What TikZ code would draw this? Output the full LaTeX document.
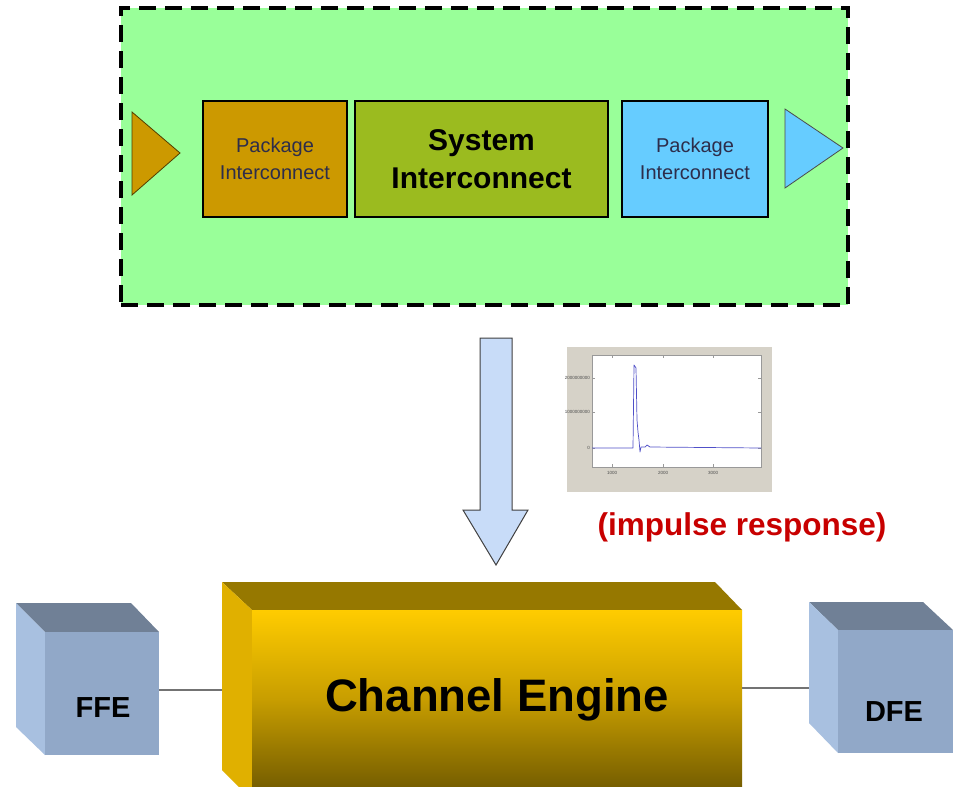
\documentclass[tikz,border=0pt]{standalone}
\usepackage{fontspec}
\setmainfont{Liberation Sans}
\usetikzlibrary{shapes.geometric}
\definecolor{bggreen}{RGB}{153,255,153}
\definecolor{pkorange}{RGB}{204,153,0}
\definecolor{sysgreen}{RGB}{155,187,31}
\definecolor{pkblue}{RGB}{102,204,255}
\definecolor{arrowblue}{RGB}{200,220,248}
\definecolor{cubetop}{RGB}{112,128,150}
\definecolor{cubeleft}{RGB}{168,192,224}
\definecolor{cubefront}{RGB}{145,168,200}
\definecolor{engtop}{RGB}{150,120,0}
\definecolor{engleft}{RGB}{224,176,0}
\definecolor{engy1}{RGB}{255,204,0}
\definecolor{engy2}{RGB}{200,158,0}
\definecolor{engy3}{RGB}{118,94,0}
\definecolor{figgray}{RGB}{214,210,200}
\definecolor{plotblue}{RGB}{80,80,200}
\definecolor{redlabel}{RGB}{200,0,0}
\definecolor{pktext}{RGB}{45,45,75}
\begin{document}
\begin{tikzpicture}[x=1pt,y=-1pt,
  blockbox/.style={draw=black,line width=1.5pt,minimum height=116pt,inner sep=0pt,align=center},
  pktxt/.style={text=pktext,font=\fontsize{20}{27}\selectfont},
  cubetxt/.style={font=\bfseries\fontsize{29}{32}\selectfont,text=black},
  tinytxt/.style={font=\fontsize{4.5}{5}\selectfont,text=black!70,inner sep=0pt},
  wire/.style={draw=black!55,line width=1.6pt}]
\clip (0,0) rectangle (953,787);
\fill[white] (0,0) rectangle (953,787);

% top green frame
\node[draw=black,fill=bggreen,line width=4.5pt,dash pattern=on 17pt off 9pt,
  minimum width=727pt,minimum height=297pt,inner sep=0pt] (frame) at (484.5,156.5) {};

% triangles
\draw[fill=pkorange,draw=black!60!pkorange,line width=0.8pt] (132,112) -- (180,153) -- (132,195) -- cycle;
\draw[fill=pkblue,draw=black!70,line width=0.8pt] (785,109) -- (843,148) -- (785,188) -- cycle;

% blocks
\node[blockbox,fill=pkorange,minimum width=144pt,pktxt] (pk1) at (275,159) {Package\\Interconnect};
\node[blockbox,fill=sysgreen,minimum width=253pt,font=\bfseries\fontsize{30}{38}\selectfont] (sys) at (481.5,159) {System\\Interconnect};
\node[blockbox,fill=pkblue,minimum width=146pt,pktxt] (pk2) at (695,159) {Package\\Interconnect};

% big arrow
\draw[fill=arrowblue,draw=black!75,line width=1pt]
  (480,338) -- (512,338) -- (512,510) -- (528,510) -- (496,565) -- (463,510) -- (480,510) -- cycle;

% impulse response plot
\fill[figgray] (567,347) rectangle (772,492);
\draw[fill=white,draw=black!40,line width=0.5pt] (592,355) rectangle (761,467);
\foreach \xx in {612,663,713}{
  \draw[black!40,line width=0.4pt] (\xx,467) -- (\xx,464);
  \draw[black!40,line width=0.4pt] (\xx,355) -- (\xx,358);}
\foreach \yy in {378,412,448}{
  \draw[black!40,line width=0.4pt] (592,\yy) -- (595,\yy);
  \draw[black!40,line width=0.4pt] (761,\yy) -- (758,\yy);}
\node[tinytxt,anchor=east] (yl1) at (590,378) {2000000000};
\node[tinytxt,anchor=east] (yl2) at (590,412) {1000000000};
\node[tinytxt,anchor=east] (yl3) at (590,448) {0};
\node[tinytxt] (xl1) at (612,473) {1000};
\node[tinytxt] (xl2) at (663,473) {2000};
\node[tinytxt] (xl3) at (713,473) {3000};
\draw[plotblue,line width=0.7pt,line join=round]
  (592,448) -- (633,448) -- (634,365) -- (636,368) -- (637,420) -- (638,432) -- (639,440)
  -- (640,452) -- (641,447) -- (645,447) -- (647,445) -- (650,447) -- (761,448);
\node[font=\bfseries\fontsize{31.5}{34}\selectfont,text=redlabel] (imp) at (742,527) {(impulse response)};

% channel engine 3D box
\fill[engtop] (222,582) -- (715,582) -- (742,610) -- (252,610) -- cycle;
\fill[engleft] (222,582) -- (252,610) -- (252,800) -- (222,770) -- cycle;
\shade[top color=engy1,bottom color=engy3,middle color=engy2] (252,610) rectangle (742,787);
\node[font=\bfseries\fontsize{45.5}{48}\selectfont,text=black] (eng) at (497,700) {Channel Engine};

% FFE cube
\fill[cubetop] (16,603) -- (131,603) -- (159,632) -- (45,632) -- cycle;
\fill[cubeleft] (16,603) -- (45,632) -- (45,755) -- (16,727) -- cycle;
\fill[cubefront] (45,632) rectangle (159,755);
\node[cubetxt] (ffe) at (103,708) {FFE};

% DFE cube
\fill[cubetop] (809,602) -- (923,602) -- (953,630) -- (838,630) -- cycle;
\fill[cubeleft] (809,602) -- (838,630) -- (838,753) -- (809,723) -- cycle;
\fill[cubefront] (838,630) rectangle (953,753);
\node[cubetxt] (dfe) at (894,712) {DFE};

% connectors
\coordinate (ffeR) at (159,690);
\coordinate (engL) at (222,690);
\coordinate (engR) at (742,688);
\coordinate (dfeL) at (809,688);
\draw[wire] (ffeR) -- (engL);
\draw[wire] (engR) -- (dfeL);
\end{tikzpicture}
\end{document}
